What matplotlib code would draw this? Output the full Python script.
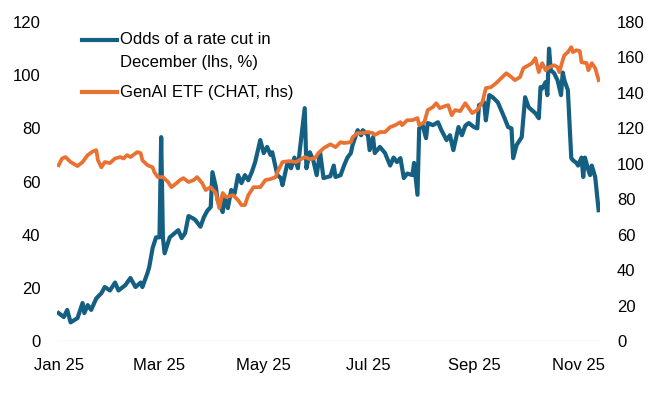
import matplotlib
matplotlib.use("Agg")
import matplotlib.pyplot as plt
import matplotlib.dates as mdates
from matplotlib.lines import Line2D
import pandas as pd

plt.rcParams['font.family'] = ['Liberation Sans Narrow', 'Liberation Sans', 'DejaVu Sans']

# odds of a December rate cut (lhs, %)
odds_dates = [
    "2025-01-01", "2025-01-04", "2025-01-06", "2025-01-08", "2025-01-12", "2025-01-15",
    "2025-01-16", "2025-01-18", "2025-01-20", "2025-01-23", "2025-01-26", "2025-01-28",
    "2025-01-31", "2025-02-03", "2025-02-05", "2025-02-09", "2025-02-12", "2025-02-15",
    "2025-02-18", "2025-02-19", "2025-02-22", "2025-02-23", "2025-02-25", "2025-02-27",
    "2025-03-01", "2025-03-02", "2025-03-03", "2025-03-04", "2025-03-07", "2025-03-10",
    "2025-03-12", "2025-03-14", "2025-03-16", "2025-03-18", "2025-03-21", "2025-03-22",
    "2025-03-25", "2025-03-27", "2025-03-29", "2025-03-31", "2025-04-01", "2025-04-03",
    "2025-04-04", "2025-04-07", "2025-04-08", "2025-04-10", "2025-04-12", "2025-04-14",
    "2025-04-16", "2025-04-18", "2025-04-20", "2025-04-22", "2025-04-24", "2025-04-26",
    "2025-04-29", "2025-05-01", "2025-05-03", "2025-05-05", "2025-05-06", "2025-05-09",
    "2025-05-11", "2025-05-12", "2025-05-15", "2025-05-17", "2025-05-19", "2025-05-21",
    "2025-05-22", "2025-05-25", "2025-05-26", "2025-05-28", "2025-05-30", "2025-06-01",
    "2025-06-03", "2025-06-05", "2025-06-09", "2025-06-11", "2025-06-12", "2025-06-15",
    "2025-06-17", "2025-06-19", "2025-06-21", "2025-06-22", "2025-06-25", "2025-06-27",
    "2025-06-28", "2025-07-01", "2025-07-02", "2025-07-04", "2025-07-05", "2025-07-08",
    "2025-07-11", "2025-07-14", "2025-07-16", "2025-07-18", "2025-07-20", "2025-07-22",
    "2025-07-24", "2025-07-27", "2025-07-28", "2025-07-30", "2025-07-31", "2025-08-02",
    "2025-08-04", "2025-08-05", "2025-08-08", "2025-08-11", "2025-08-13", "2025-08-16",
    "2025-08-18", "2025-08-20", "2025-08-23", "2025-08-25", "2025-08-27", "2025-08-29",
    "2025-09-01", "2025-09-03", "2025-09-04", "2025-09-06", "2025-09-07", "2025-09-08",
    "2025-09-10", "2025-09-12", "2025-09-15", "2025-09-17", "2025-09-19", "2025-09-21",
    "2025-09-23", "2025-09-24", "2025-09-26", "2025-09-29", "2025-10-01", "2025-10-03",
    "2025-10-05", "2025-10-07", "2025-10-09", "2025-10-10", "2025-10-11", "2025-10-13",
    "2025-10-14", "2025-10-15", "2025-10-16", "2025-10-18", "2025-10-20", "2025-10-22",
    "2025-10-23", "2025-10-24", "2025-10-26", "2025-10-28", "2025-10-29", "2025-10-31",
    "2025-11-01", "2025-11-03", "2025-11-04", "2025-11-05", "2025-11-07", "2025-11-08",
    "2025-11-09", "2025-11-11", "2025-11-13",
]
odds_values = [
    10.5, 9, 11.7, 7, 8.6, 14.3,
    10.5, 13.5, 11.7, 16, 18, 20.3,
    19, 22, 19, 21, 23.7, 20.3,
    22, 20.3, 25.6, 27.8, 35, 39,
    39, 76.7, 39, 33, 39, 40.6,
    41.7, 38.7, 40.6, 47, 46, 45.5,
    43, 46.6, 49, 50.4, 63.5, 58,
    53, 48.5, 54, 50, 56.8, 55.6,
    62.4, 59.4, 62.4, 60.5, 63.5, 67.3,
    75.6, 70.7, 73, 70, 71, 62.4,
    61.3, 58.6, 67.3, 65, 69, 65,
    71, 87.6, 65, 71, 68, 62.4,
    71, 61.3, 62, 66, 61.7, 62.4,
    66, 69, 70.7, 73.7, 79.3, 77.4,
    79.3, 77.4, 71.8, 76.7, 70.7, 73,
    70.7, 66, 69, 67.3, 68.8, 61.3,
    63, 62.4, 67, 55, 80, 81.2,
    76.3, 82, 81.2, 82.3, 79.3, 75.6,
    77.4, 71.8, 80.5, 77.4, 81, 82,
    80.5, 80, 88.7, 89.5, 89.8, 83,
    92.5, 91.7, 89.8, 86.8, 83.8, 80.5,
    80, 68.8, 73.7, 76.7, 91.7, 88,
    86.8, 85.7, 83.8, 95.5, 95, 97.4,
    92.5, 110, 101.9, 100.7, 98, 92.5,
    101, 98, 94.4, 68.8, 68, 67,
    66, 69, 61.7, 69, 64.3, 62.4,
    66, 61.7, 49.2,
]

# GenAI ETF (CHAT, rhs)
etf_dates = [
    "2025-01-01", "2025-01-03", "2025-01-05", "2025-01-08", "2025-01-12", "2025-01-15",
    "2025-01-18", "2025-01-21", "2025-01-23", "2025-01-24", "2025-01-26", "2025-01-28",
    "2025-01-31", "2025-02-03", "2025-02-06", "2025-02-08", "2025-02-10", "2025-02-12",
    "2025-02-16", "2025-02-18", "2025-02-19", "2025-02-22", "2025-02-25", "2025-02-26",
    "2025-02-28", "2025-03-03", "2025-03-06", "2025-03-08", "2025-03-11", "2025-03-13",
    "2025-03-15", "2025-03-18", "2025-03-21", "2025-03-23", "2025-03-26", "2025-03-28",
    "2025-03-31", "2025-04-03", "2025-04-05", "2025-04-07", "2025-04-09", "2025-04-13",
    "2025-04-16", "2025-04-18", "2025-04-20", "2025-04-22", "2025-04-25", "2025-04-29",
    "2025-05-02", "2025-05-05", "2025-05-08", "2025-05-09", "2025-05-12", "2025-05-16",
    "2025-05-20", "2025-05-25", "2025-05-28", "2025-05-31", "2025-06-02", "2025-06-05",
    "2025-06-09", "2025-06-12", "2025-06-15", "2025-06-17", "2025-06-21", "2025-06-22",
    "2025-06-25", "2025-06-27", "2025-07-01", "2025-07-04", "2025-07-05", "2025-07-08",
    "2025-07-11", "2025-07-14", "2025-07-17", "2025-07-20", "2025-07-21", "2025-07-24",
    "2025-07-27", "2025-07-30", "2025-07-31", "2025-08-03", "2025-08-05", "2025-08-08",
    "2025-08-10", "2025-08-12", "2025-08-15", "2025-08-17", "2025-08-19", "2025-08-21",
    "2025-08-24", "2025-08-27", "2025-08-29", "2025-08-31", "2025-09-03", "2025-09-06",
    "2025-09-08", "2025-09-11", "2025-09-14", "2025-09-17", "2025-09-20", "2025-09-23",
    "2025-09-25", "2025-09-28", "2025-09-30", "2025-10-03", "2025-10-05", "2025-10-07",
    "2025-10-09", "2025-10-10", "2025-10-11", "2025-10-13", "2025-10-15", "2025-10-18",
    "2025-10-20", "2025-10-21", "2025-10-23", "2025-10-24", "2025-10-26", "2025-10-28",
    "2025-10-29", "2025-10-31", "2025-11-02", "2025-11-03", "2025-11-06", "2025-11-07",
    "2025-11-09", "2025-11-11", "2025-11-13",
]
etf_values = [
    99.2, 103, 103.8, 101, 98.7, 101,
    104.9, 107, 107.7, 102, 98, 101,
    100.4, 103, 103.8, 103, 104.9, 103.8,
    106.6, 106, 102, 99.2, 98, 95.3,
    92.5, 92.5, 89.7, 86.8, 89.1, 90.8,
    91.9, 89.7, 90.8, 92.5, 89.1, 85.2,
    86.8, 83.5, 75, 83.5, 81.2, 82.3,
    79.5, 76.7, 76.7, 82.3, 86.8, 86.8,
    90.8, 91.4, 92.5, 95.3, 101, 101.5,
    101, 103.8, 102.6, 103.2, 106, 108.8,
    111, 109.4, 112.2, 111.7, 112.2, 115,
    117.3, 117.3, 117.9, 117.3, 116.2, 117.9,
    117.9, 120.7, 121.8, 123.5, 121.8, 124.6,
    124.6, 125.8, 121.8, 123.5, 130.3, 132,
    134.2, 131.4, 132.5, 133.1, 127.4, 130.3,
    129.7, 134.2, 131.4, 128.6, 130.3, 134.8,
    142.7, 143.2, 145.5, 148.3, 151.1, 148.9,
    147.2, 148.9, 154, 155.6, 156.8, 159.6,
    151.7, 154.5, 156.8, 152.8, 154.5, 155.6,
    154.5, 151.7, 158.5, 161.3, 163, 165.8,
    163, 164.1, 163.6, 157.3, 156.8, 152.8,
    156.8, 154, 147.2,
]

left_ticks = [0, 20, 40, 60, 80, 100, 120]
right_ticks = [0, 20, 40, 60, 80, 100, 120, 140, 160, 180]
month_ticks = ["2025-01-01", "2025-03-01", "2025-05-01", "2025-07-01", "2025-09-01", "2025-11-01"]

blue = "#156082"
orange = "#E97132"

fig = plt.figure(figsize=(6.7, 3.93), dpi=100)
ax = fig.add_axes([0.085, 0.1323, 0.811, 0.8117])
ax2 = ax.twinx()

ax.plot(pd.to_datetime(odds_dates), odds_values, color=blue, lw=3.0, solid_joinstyle="round")
ax2.plot(pd.to_datetime(etf_dates), etf_values, color=orange, lw=2.7, solid_joinstyle="round")

ax.set_xlim(pd.Timestamp("2024-12-31"), pd.Timestamp("2025-11-14"))
ax.set_ylim(0, 120)
ax2.set_ylim(0, 180)
ax.set_yticks(left_ticks)
ax2.set_yticks(right_ticks)
ax.set_xticks(pd.to_datetime(month_ticks))
ax.xaxis.set_major_formatter(mdates.DateFormatter("%b %y"))

for a in (ax, ax2):
    for s in a.spines.values():
        s.set_visible(False)
ax.axhline(0, color="#D9D9D9", lw=1.0, zorder=0)

ax.tick_params(axis="y", length=0, pad=12, labelsize=12, colors="#000000")
ax2.tick_params(axis="y", length=0, pad=12, labelsize=12, colors="#000000")
ax.tick_params(axis="x", length=0, pad=12, labelsize=12, colors="#000000")

# legend, drawn by hand so the handle sits on the first text line
fig.add_artist(Line2D([82 / 670, 117 / 670], [1 - 40 / 393, 1 - 40 / 393],
                      color=blue, lw=3.0, transform=fig.transFigure))
fig.text(120 / 670, 1 - 40 / 393, "Odds of a rate cut in", fontsize=12, va="center", ha="left")
fig.text(120 / 670, 1 - 63 / 393, "December (lhs, %)", fontsize=12, va="center", ha="left")
fig.add_artist(Line2D([82 / 670, 117 / 670], [1 - 92 / 393, 1 - 92 / 393],
                      color=orange, lw=3.0, transform=fig.transFigure))
fig.text(120 / 670, 1 - 92 / 393, "GenAI ETF (CHAT, rhs)", fontsize=12, va="center", ha="left")

fig.savefig("out.png", dpi=100)
